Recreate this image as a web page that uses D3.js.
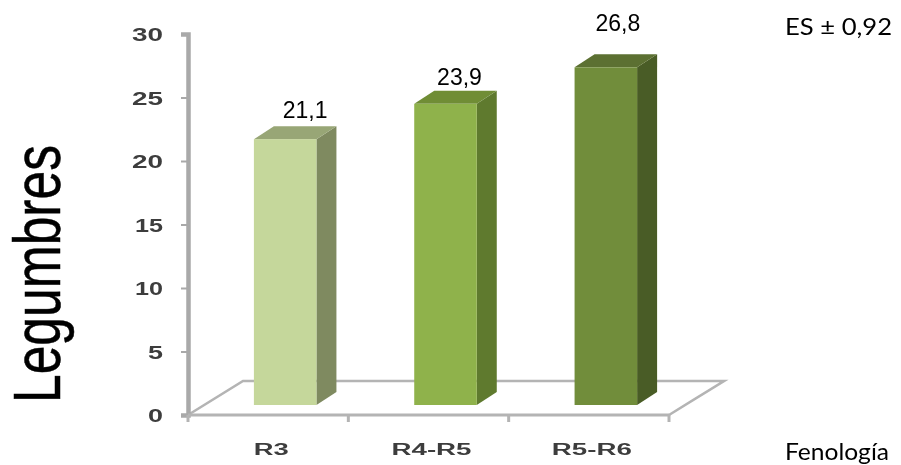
<!DOCTYPE html>
<html>
<head>
<meta charset="utf-8">
<style>
html,body{margin:0;padding:0;background:#fff;}
svg{display:block;}
</style>
<script src="https://cdn.jsdelivr.net/npm/d3@7"></script>
</head>
<body>
<svg id="chart" width="901" height="465"></svg>
<script>
// Legume counts per phenological stage
const stages = ["R3", "R4-R5", "R5-R6"];
const legumes = [21.1, 23.9, 26.8];
const valueLabels = ["21,1", "23,9", "26,8"];
const yTicks = [0, 5, 10, 15, 20, 25, 30];
const frontColors = ["#c5d79b", "#8fb24b", "#718d3a"];
const sideColors = ["#7f8a60", "#5f7a2f", "#4a5c25"];
const topColors = ["#98a676", "#6f8d36", "#5b7030"];
const stageLabelWidths = [35, 80, 80];
const valueLabelShift = [20, 14, 12];
const valueLabelLift = [21, 19, 36];

const svg = d3.select("#chart");

const defs = svg.append("defs");
defs.append("filter").attr("id", "soft")
  .attr("x", "-5%").attr("y", "-5%").attr("width", "110%").attr("height", "110%")
  .append("feGaussianBlur").attr("stdDeviation", 0.7);
defs.append("filter").attr("id", "softTitle")
  .attr("x", "-5%").attr("y", "-5%").attr("width", "110%").attr("height", "110%")
  .append("feGaussianBlur").attr("stdDeviation", 0.5);

// Scales: the axis sits on the front edge of the floor, bars stand further in
const x = d3.scaleBand().domain(stages).range([188, 669]);
const y = d3.scaleLinear().domain([0, 30]).range([415, 34]);
const barY = d3.scaleLinear().domain([0, 30]).range([405, 27]);

const depthX = 20, depthY = 13;
const floorX = 55, floorY = 34;
const barW = x.bandwidth() * 0.39;
const barLeft = d => x(d) + x.bandwidth() / 2 + 17 - barW / 2;

const chart = svg.append("g").attr("filter", "url(#soft)");

// Floor outline
const floorColor = "#b4b4b4";
const x0 = x.range()[0], x1 = x.range()[1], yb = y(0);
chart.append("path")
  .attr("d", d3.line()([[x0, yb], [x0 + floorX, yb - floorY], [x1 + floorX, yb - floorY], [x1, yb]]))
  .attr("fill", "none").attr("stroke", floorColor).attr("stroke-width", 2.6);

// Vertical axis
const yAxis = chart.append("g")
  .attr("transform", `translate(${x0},0)`)
  .call(d3.axisLeft(y).tickValues(yTicks).tickSize(7).tickPadding(0));
yAxis.select(".domain").attr("stroke", "#a9a9a9").attr("stroke-width", 4.5);
yAxis.selectAll(".tick line").attr("stroke", "#a9a9a9").attr("stroke-width", 2);
yAxis.selectAll(".tick text")
  .attr("x", -25)
  .attr("dy", "0.36em")
  .attr("text-anchor", "end")
  .attr("font-family", "'Liberation Sans', Arial, sans-serif")
  .attr("font-weight", "bold")
  .attr("font-size", 19)
  .attr("fill", "#3c3c3c")
  .attr("textLength", d => d < 10 ? 15 : (d === 10 || d === 15 ? 28 : 31))
  .attr("lengthAdjust", "spacingAndGlyphs");

// Front edge of the floor with category boundary ticks
chart.append("line")
  .attr("x1", x0).attr("x2", x1).attr("y1", yb).attr("y2", yb)
  .attr("stroke", floorColor).attr("stroke-width", 3);
chart.selectAll(".xtick")
  .data([...stages.map(s => x(s)), x1])
  .join("line")
  .attr("class", "xtick")
  .attr("x1", d => d).attr("x2", d => d)
  .attr("y1", yb).attr("y2", yb + 7)
  .attr("stroke", floorColor).attr("stroke-width", 3);

// Bars: right side, top face, front face
const bars = chart.selectAll(".bar")
  .data(stages.map((s, i) => ({ s, v: legumes[i], i })))
  .join("g").attr("class", "bar");

bars.append("path")
  .attr("d", d => {
    const r = barLeft(d.s) + barW, t = barY(d.v), b = barY(0);
    return d3.line()([[r, t], [r + depthX, t - depthY], [r + depthX, b - depthY], [r, b]]) + "Z";
  })
  .attr("fill", d => sideColors[d.i]);

bars.append("path")
  .attr("d", d => {
    const l = barLeft(d.s), r = l + barW, t = barY(d.v);
    return d3.line()([[l, t], [l + depthX, t - depthY], [r + depthX, t - depthY], [r, t]]) + "Z";
  })
  .attr("fill", d => topColors[d.i]);

bars.append("rect")
  .attr("x", d => barLeft(d.s))
  .attr("y", d => barY(d.v))
  .attr("width", barW)
  .attr("height", d => barY(0) - barY(d.v))
  .attr("fill", d => frontColors[d.i]);

// Category labels
chart.selectAll(".stage")
  .data(stages)
  .join("text")
  .attr("class", "stage")
  .attr("x", d => x(d) + x.bandwidth() / 2 + 3)
  .attr("y", 455)
  .attr("text-anchor", "middle")
  .attr("font-family", "'Liberation Sans', Arial, sans-serif")
  .attr("font-weight", "bold")
  .attr("font-size", 16)
  .attr("fill", "#3c3c3c")
  .attr("textLength", (d, i) => stageLabelWidths[i])
  .attr("lengthAdjust", "spacingAndGlyphs")
  .text(d => d);

// Vertical title, tall and condensed along the axis
svg.append("text")
  .attr("filter", "url(#softTitle)")
  .attr("transform", "translate(60,274) rotate(-90)")
  .attr("text-anchor", "middle")
  .attr("font-family", "'Liberation Sans', Arial, sans-serif")
  .attr("font-size", 66)
  .attr("fill", "#000")
  .attr("stroke", "#000")
  .attr("stroke-width", 0.5)
  .attr("textLength", 258)
  .attr("lengthAdjust", "spacingAndGlyphs")
  .text("Legumbres");

// Value labels above each bar
svg.selectAll(".value")
  .data(stages.map((s, i) => ({ s, v: legumes[i], i })))
  .join("text")
  .attr("class", "value")
  .attr("x", d => barLeft(d.s) + barW / 2 + valueLabelShift[d.i])
  .attr("y", d => barY(d.v) - valueLabelLift[d.i])
  .attr("text-anchor", "middle")
  .attr("font-family", "'Liberation Sans', Arial, sans-serif")
  .attr("font-size", 23)
  .attr("fill", "#000")
  .text(d => valueLabels[d.i]);

// Standard error and axis note
svg.append("text")
  .attr("x", 785).attr("y", 35)
  .attr("font-family", "Lato, 'Open Sans', sans-serif")
  .attr("font-size", 23).attr("fill", "#000")
  .attr("textLength", 107).attr("lengthAdjust", "spacingAndGlyphs")
  .text("ES ± 0,92");
svg.append("text")
  .attr("x", 785).attr("y", 460)
  .attr("font-family", "Lato, 'Open Sans', sans-serif")
  .attr("font-size", 23).attr("fill", "#000")
  .attr("textLength", 104).attr("lengthAdjust", "spacingAndGlyphs")
  .text("Fenología");
</script>
</body>
</html>
